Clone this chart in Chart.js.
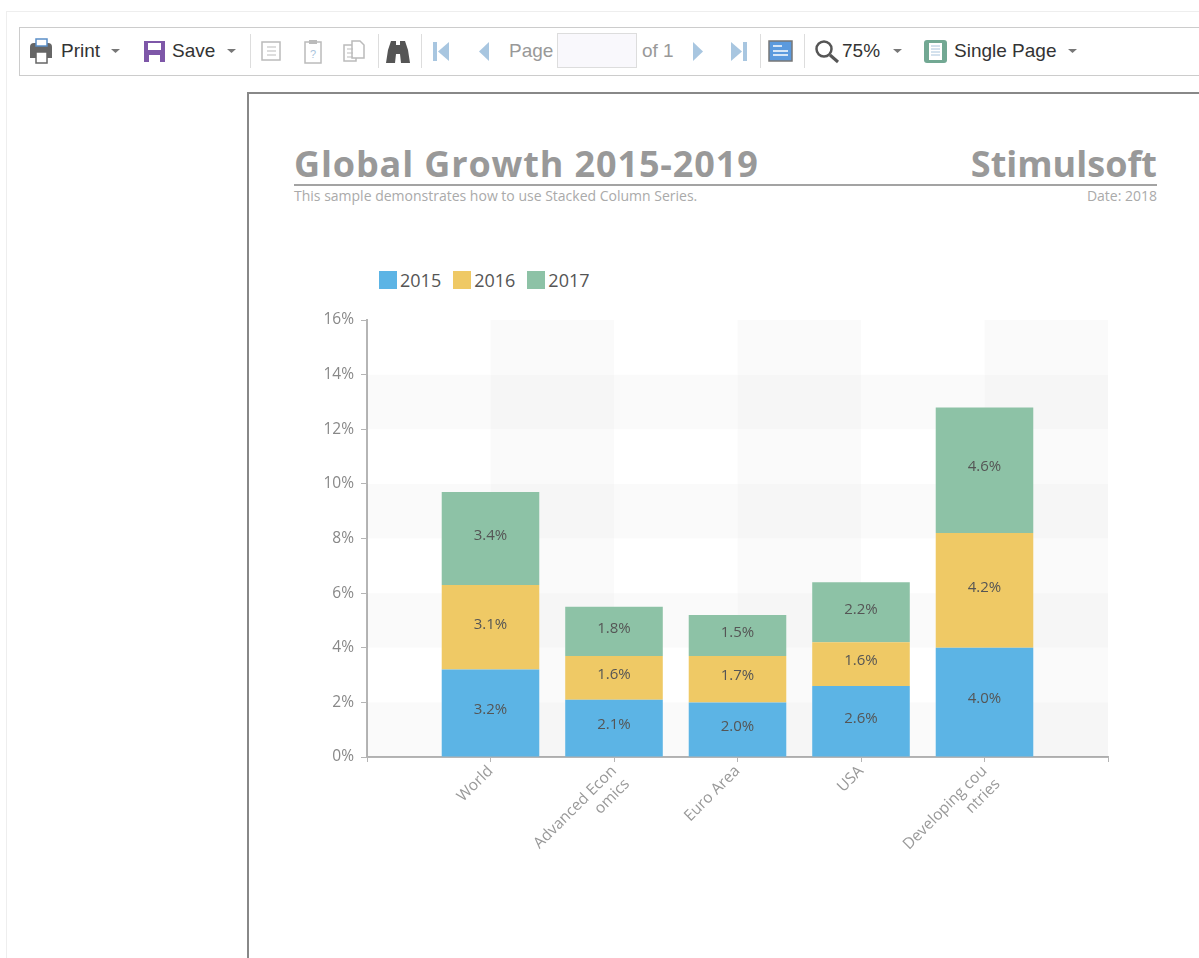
<!DOCTYPE html>
<html>
<head>
<meta charset="utf-8">
<title>Global Growth 2015-2019</title>
<script src="https://cdn.jsdelivr.net/npm/chart.js@4"></script>
<style>
  html, body { margin: 0; height: 100%; background: #fff; overflow: hidden; }
  #frame { position: absolute; left: 6px; top: 11px; width: 1300px; height: 1000px; border: 1px solid #eee; }
  #toolbar { position: absolute; left: 19px; top: 27px; width: 1300px; height: 47px; border: 1px solid #ccc; }
  #report { position: absolute; left: 247px; top: 92px; width: 1100px; height: 1000px; border: 1px solid #888; border-width: 2px 0 0 2px; box-sizing: border-box; }
  #icons { position: absolute; left: 0; top: 0; }
  .tb { position: absolute; top: 39px; font: 19px/24px "Liberation Sans", sans-serif; color: #333; white-space: nowrap; }
  .tb.off { color: #999; }
  #pageInput { position: absolute; left: 557px; top: 33px; width: 80px; height: 35px; box-sizing: border-box; background: #f9f8fc; border: 1px solid #ddd; }
  .rp { position: absolute; font-family: "Open Sans", sans-serif; white-space: nowrap; }
  .big { top: 141px; font-size: 36px; line-height: 46px; font-weight: 700; color: #999; }
  .small { top: 187px; font-size: 14px; line-height: 17px; color: #aaa; }
  #rule { position: absolute; left: 294px; top: 184px; width: 863px; height: 2px; background: #a3a3a3; }
  #legend { position: absolute; left: 379px; top: 266px; display: flex; font: 18px/28px "Open Sans", sans-serif; color: #555; }
  #legend div { display: flex; align-items: center; margin-right: 12px; }
  #legend span { display: block; width: 18px; height: 18px; margin-right: 3px; }
  #chart { position: absolute; left: 310px; top: 300px; }
</style>
</head>
<body>
<div id="frame"></div>
<div id="toolbar"></div>
<div id="report"></div>

<svg id="icons" width="1199" height="110">
  <!-- separators -->
  <g fill="#ddd">
    <rect x="250" y="34" width="1" height="34"/><rect x="378" y="34" width="1" height="34"/>
    <rect x="421" y="34" width="1" height="34"/><rect x="760" y="34" width="1" height="34"/>
    <rect x="804" y="34" width="1" height="34"/>
  </g>
  <!-- print -->
  <path d="M30 47q0-4 4-4h14q4 0 4 4v11h-22z" fill="#666"/>
  <rect x="36" y="39" width="11" height="7" fill="#fff" stroke="#5b8fc7" stroke-width="1.5"/>
  <rect x="36" y="52" width="11" height="11" fill="#fff" stroke="#666" stroke-width="1.5"/>
  <!-- save -->
  <rect x="144" y="41" width="21" height="21" fill="#7e57a8"/>
  <rect x="148" y="43" width="13" height="7" fill="#fff"/><rect x="149" y="55" width="11" height="7" fill="#fff"/>
  <!-- carets -->
  <g fill="#777">
    <path d="M111 49h9l-4.500 4z"/><path d="M227 49h9l-4.500 4z"/>
    <path d="M893 49h9l-4.500 4z"/><path d="M1068 49h9l-4.500 4z"/>
  </g>
  <!-- disabled page tools -->
  <g fill="#fff" stroke="#bbb" stroke-width="1.500">
    <rect x="262" y="42" width="18" height="18"/>
    <rect x="305" y="42" width="16" height="21"/>
    <rect x="344" y="45" width="12" height="16"/>
    <path d="M352 41h8l4 4v13h-12z"/>
  </g>
  <path d="M267 47h9M267 51h9M267 55h9M347 49h6M347 53h6M347 57h6" stroke="#bbb"/>
  <rect x="309" y="40" width="8" height="4" fill="#bbb"/>
  <text x="310" y="58" font-family="Liberation Sans" font-size="11" fill="#a9c4dc">?</text>
  <!-- binoculars -->
  <path d="M388 50l3-9h5v4h4v-4h5l3 9 2 13h-9l-1-9h-4l-1 9h-9z" fill="#555"/>
  <!-- page navigation -->
  <g fill="#a8c6e0">
    <rect x="433" y="42" width="4" height="19"/><path d="M449 42v19l-11-9.500z"/>
    <path d="M489 42v19l-10-9.500z"/>
    <path d="M693 42v19l10-9.500z"/>
    <rect x="743" y="42" width="4" height="19"/><path d="M731 42v19l11-9.500z"/>
  </g>
  <!-- view -->
  <rect x="769" y="41" width="23" height="20" fill="#5b9ade" stroke="#777" stroke-width="1.500"/>
  <path d="M773 46h9M773 51h15M773 55h15" stroke="#fff" stroke-width="1.500"/>
  <!-- zoom -->
  <circle cx="824" cy="49" r="7.500" fill="none" stroke="#555" stroke-width="2.500"/>
  <path d="M830 55l8 7" stroke="#555" stroke-width="3"/>
  <!-- single page -->
  <rect x="924" y="40" width="23" height="23" rx="3" fill="#72a893"/>
  <rect x="929" y="43" width="13" height="17" fill="#fff"/>
  <path d="M931 46h9M931 49h9M931 52h9M931 55h9" stroke="#a9c4dc"/>
</svg>

<div class="tb" style="left:61px">Print</div>
<div class="tb" style="left:172px">Save</div>
<div class="tb off" style="left:509px">Page</div>
<div id="pageInput"></div>
<div class="tb off" style="left:642px">of 1</div>
<div class="tb" style="left:842px">75%</div>
<div class="tb" style="left:954px">Single Page</div>

<div class="rp big" style="left:294px;letter-spacing:0.87px">Global Growth 2015-2019</div>
<div class="rp big" style="right:42px">Stimulsoft</div>
<div id="rule"></div>
<div class="rp small" style="left:294px">This sample demonstrates how to use Stacked Column Series.</div>
<div class="rp small" style="right:42px">Date: 2018</div>

<div id="legend"></div>
<canvas id="chart" width="810" height="570"></canvas>

<script>
const categories = [
  "World",
  ["Advanced Econ", "omics"],
  "Euro Area",
  "USA",
  ["Developing cou", "ntries"],
];
const seriesNames = ["2015", "2016", "2017"];
const seriesColors = ["#5cb4e5", "#efc965", "#8dc2a6"];
const values2015 = [3.2, 2.1, 2.0, 2.6, 4.0];
const values2016 = [3.1, 1.6, 1.7, 1.6, 4.2];
const values2017 = [3.4, 1.8, 1.5, 2.2, 4.6];
const yMax = 16;
const yStep = 2;

// the axis runs one empty slot past each side of the columns
const padded = (list, blank) => [blank, ...list, blank];

const stripes = {
  id: "stripes",
  beforeDatasetsDraw(chart) {
    const { ctx, chartArea: a, scales: { x, y } } = chart;
    ctx.save();
    ctx.fillStyle = "rgba(0,0,0,0.02)";
    for (let i = 1; i < x.ticks.length - 1; i += 2) {
      const left = x.getPixelForTick(i);
      ctx.fillRect(left, a.top, x.getPixelForTick(i + 1) - left, a.height);
    }
    for (let v = 0; v < yMax; v += yStep * 2) {
      const top = y.getPixelForValue(v + yStep);
      ctx.fillRect(a.left, top, a.width, y.getPixelForValue(v) - top);
    }
    ctx.restore();
  },
};

const barLabels = {
  id: "barLabels",
  afterDatasetsDraw(chart) {
    const { ctx } = chart;
    ctx.save();
    ctx.font = '15px "Open Sans", sans-serif';
    ctx.fillStyle = "#555";
    ctx.textAlign = "center";
    ctx.textBaseline = "middle";
    chart.data.datasets.forEach((ds, i) => {
      chart.getDatasetMeta(i).data.forEach((bar, j) => {
        if (ds.data[j] == null) return;
        ctx.fillText(ds.data[j].toFixed(1) + "%", bar.x, (bar.y + bar.base) / 2 - 3);
      });
    });
    ctx.restore();
  },
};

const chart = new Chart(document.getElementById("chart").getContext("2d"), {
  type: "bar",
  plugins: [stripes, barLabels],
  data: {
    labels: padded(categories, ""),
    datasets: [values2015, values2016, values2017].map((vals, i) => ({
      label: seriesNames[i],
      data: padded(vals, null),
      backgroundColor: seriesColors[i],
      borderWidth: 0,
      categoryPercentage: 1,
      barPercentage: 0.79,
    })),
  },
  options: {
    responsive: false,
    animation: false,
    layout: { padding: { top: 20, right: 12 } },
    plugins: { legend: { display: false }, tooltip: { enabled: false } },
    scales: {
      x: {
        stacked: true,
        offset: false,
        afterFit: (s) => { s.height = 113; s.paddingLeft = 0; s.paddingRight = 0; },
        ticks: {
          autoSkip: false,
          minRotation: 45,
          maxRotation: 45,
          padding: 0,
          color: "#999",
          font: { family: '"Open Sans", sans-serif', size: 15.5, lineHeight: 1.2 },
        },
        grid: { offset: false, drawOnChartArea: false, tickLength: 5, color: "#b5b5b5" },
        border: { color: "#b5b5b5", width: 2 },
      },
      y: {
        stacked: true,
        min: 0,
        max: yMax,
        afterFit: (s) => { s.width = 57; },
        ticks: {
          stepSize: yStep,
          color: "#888",
          padding: 7,
          font: { family: '"Open Sans", sans-serif', size: 15.5 },
          callback: (v) => v + "%",
        },
        grid: { drawOnChartArea: false, tickLength: 6, color: "#b5b5b5" },
        border: { color: "#b5b5b5", width: 2 },
      },
    },
  },
});

const legend = document.getElementById("legend");
chart.data.datasets.forEach((ds) => {
  const item = document.createElement("div");
  const box = document.createElement("span");
  box.style.background = ds.backgroundColor;
  item.append(box, ds.label);
  legend.append(item);
});
</script>
</body>
</html>
